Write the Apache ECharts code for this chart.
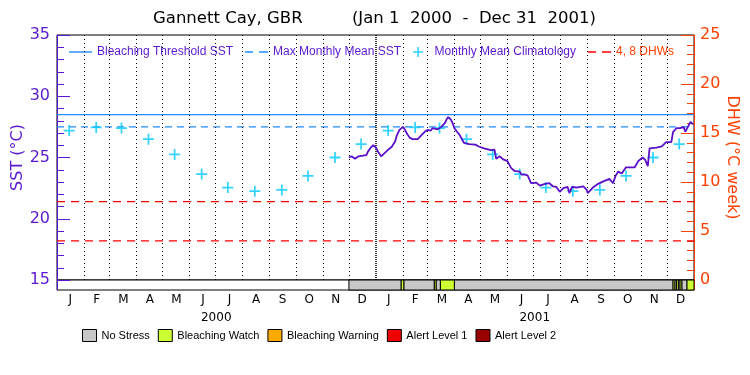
<!DOCTYPE html>
<html><head><meta charset="utf-8">
<script src="https://cdn.jsdelivr.net/npm/echarts@6/dist/echarts.min.js"></script>
<style>html,body{margin:0;padding:0;background:#fff}#c{width:750px;height:375px}</style>
</head><body><div id="c"></div>
<script>
// ---------------- data ----------------
const titleLeft = 'Gannett Cay, GBR';
const titleRight = '(Jan 1  2000  -  Dec 31  2001)';
const monthLabels = ['J','F','M','A','M','J','J','A','S','O','N','D','J','F','M','A','M','J','J','A','S','O','N','D'];
const yearLabels = ['2000','2001'];
const climatology = [27.2,27.45,27.4,26.5,25.25,23.65,22.55,22.25,22.35,23.5,25.0,26.1];
const bleachingThreshold = 28.5;
const maxMonthlyMean = 27.5;
const dhwLevels = [4, 8];
const sstDates = ['2000-12-01','2000-12-04','2000-12-08','2000-12-12','2000-12-17','2000-12-21','2000-12-23','2000-12-26','2000-12-29',
 '2001-01-01','2001-01-04','2001-01-07','2001-01-10','2001-01-13','2001-01-16','2001-01-19','2001-01-21','2001-01-23','2001-01-25','2001-01-28',
 '2001-02-01','2001-02-03','2001-02-06','2001-02-09','2001-02-12','2001-02-18','2001-02-22','2001-02-26',
 '2001-03-01','2001-03-05','2001-03-07','2001-03-09','2001-03-13','2001-03-17','2001-03-21','2001-03-23','2001-03-25','2001-03-28','2001-03-30',
 '2001-04-01','2001-04-04','2001-04-07','2001-04-10','2001-04-12','2001-04-18','2001-04-25','2001-04-29',
 '2001-05-05','2001-05-13','2001-05-17','2001-05-19','2001-05-23','2001-05-27',
 '2001-06-01','2001-06-05','2001-06-09','2001-06-15','2001-06-17','2001-06-21','2001-06-24','2001-06-28',
 '2001-07-04','2001-07-08','2001-07-14','2001-07-19','2001-07-23','2001-07-27','2001-07-31',
 '2001-08-04','2001-08-09','2001-08-11','2001-08-14','2001-08-19','2001-08-27','2001-08-31',
 '2001-09-01','2001-09-07','2001-09-13','2001-09-19','2001-09-26','2001-09-30',
 '2001-10-03','2001-10-06','2001-10-10','2001-10-15','2001-10-25','2001-10-29',
 '2001-11-03','2001-11-06','2001-11-09','2001-11-11','2001-11-19','2001-11-25','2001-11-30',
 '2001-12-06','2001-12-08','2001-12-12','2001-12-16','2001-12-20','2001-12-22','2001-12-25','2001-12-28','2001-12-31'];
const sstValues = [25.0,25.1,24.9,25.1,25.15,25.2,25.5,25.8,26.0,
 25.8,25.4,25.1,25.3,25.5,25.7,25.85,25.7,26.3,26.8,27.25,
 27.5,27.3,26.9,26.6,26.5,26.5,26.8,27.1,
 27.25,27.2,27.4,27.45,27.3,27.5,27.8,28.1,28.3,28.1,27.8,
 27.4,27.1,26.85,26.45,26.2,26.1,26.05,25.9,
 25.75,25.6,25.65,24.9,25.1,24.85,
 24.7,24.15,23.9,23.85,23.6,23.6,23.55,22.9,
 22.95,22.7,22.85,22.9,22.65,22.6,22.2,
 22.5,22.6,22.1,22.6,22.55,22.65,22.35,
 22.1,22.55,22.85,23.05,23.25,22.9,
 23.5,23.85,23.7,24.2,24.2,24.7,
 25.0,24.8,24.3,25.75,25.8,25.9,26.25,
 26.25,27.1,27.4,27.4,27.5,27.1,27.5,27.9,27.7];
const noStressSegments = [['2000-12-01','2001-01-30'],['2001-02-02','2001-03-09'],['2001-03-11','2001-03-16'],['2001-04-01','2001-12-08'],['2001-12-10','2001-12-12'],['2001-12-14','2001-12-16'],['2001-12-18','2001-12-24']];
const watchSegments = [['2001-01-30','2001-02-02'],['2001-03-09','2001-03-11'],['2001-03-16','2001-04-01'],['2001-12-08','2001-12-10'],['2001-12-12','2001-12-14'],['2001-12-16','2001-12-18'],['2001-12-24','2002-01-01']];
const warningSegments = [];
const alert1Segments = [];
const alert2Segments = [];
const startDate = '2000-01-01', endDate = '2002-01-01';

// ---------------- helpers ----------------
const t = s => { const p = s.split('-').map(Number); return new Date(p[0], p[1]-1, p[2]).getTime(); };
const T0 = t(startDate), T1 = t(endDate);
const PURPLE = '#5a18d0', ORANGE = '#ff4000', BLUE = '#1e8cff', CYAN = '#00c8ff';
const FONT = 'DejaVu Sans';
const ICON_SOLID = 'path://M0,0h23v1.4h-23z';
const ICON_DASH = 'path://M0,0h8v1.4h-8zM14,0h9v1.4h-9z';
const ICON_CROSS = 'path://M4.2,0h1.6v10h-1.6zM0,4.2h10v1.6h-10z';

const climData = [];
[2000, 2001].forEach(y => climatology.forEach((v, m) => climData.push([new Date(y, m, 15).getTime(), v])));
const monthStarts = [];
for (let y = 2000; y <= 2001; y++) for (let m = 0; m < 12; m++) {
  if (m === 0) continue;
  monthStarts.push(new Date(y, m, 1).getTime());
}
const yearStart = [t('2001-01-01')];

function renderSeg(params, api) {
  const s = api.coord([api.value(0), 0]);
  const e = api.coord([api.value(1), 1]);
  return { type: 'rect', shape: { x: s[0], y: e[1], width: e[0] - s[0], height: s[1] - e[1] },
    style: { fill: api.visual('color'), stroke: '#000', lineWidth: 1 } };
}
const segSeries = (name, color, segs) => ({
  name, type: 'custom', xAxisIndex: 1, yAxisIndex: 2, renderItem: renderSeg,
  itemStyle: { color }, encode: { x: [0, 1] }, silent: true,
  data: segs.map(s => [t(s[0]), t(s[1])])
});

const chart = echarts.init(document.getElementById('c'), null, { renderer: 'canvas' });
chart.setOption({
  animation: false,
  backgroundColor: '#fff',
  textStyle: { fontFamily: FONT },
  title: [
    { text: titleLeft, left: 153, top: 10, padding: 0, textStyle: { fontFamily: FONT, fontSize: 16.5, fontWeight: 'normal', color: '#000' } },
    { text: titleRight, right: 154, top: 10, padding: 0, textStyle: { fontFamily: FONT, fontSize: 16.5, fontWeight: 'normal', color: '#000' } }
  ],
  legend: [
    { left: 69, top: 46, padding: 0, itemWidth: 23, itemHeight: 10, itemGap: 12,
      textStyle: { fontFamily: 'Liberation Sans', fontSize: 12, color: PURPLE },
      data: [
        { name: 'Bleaching Threshold SST', icon: ICON_SOLID, itemStyle: { color: BLUE } },
        { name: 'Max Monthly Mean SST', icon: ICON_DASH, itemStyle: { color: BLUE } },
        { name: 'Monthly Mean Climatology', icon: ICON_CROSS, itemStyle: { color: CYAN } },
        { name: '4, 8 DHWs', icon: ICON_DASH, itemStyle: { color: '#ff0000' }, textStyle: { color: ORANGE } }
      ] },
    { left: 82, top: 329, padding: 0, itemWidth: 14, itemHeight: 12, itemGap: 8, icon: 'rect',
      itemStyle: { borderColor: '#000', borderWidth: 1 },
      textStyle: { fontFamily: 'Liberation Sans', fontSize: 11, color: '#000' },
      data: ['No Stress', 'Bleaching Watch', 'Bleaching Warning', 'Alert Level 1', 'Alert Level 2'] }
  ],
  grid: [
    { left: 57, right: 56, top: 35, height: 245, outerBoundsMode: 'none', containLabel: false,
      show: true, borderColor: '#000', borderWidth: 1, backgroundColor: 'transparent' },
    { left: 57, right: 56, top: 280, height: 10, outerBoundsMode: 'none', containLabel: false,
      show: true, borderColor: '#000', borderWidth: 1, backgroundColor: '#fff' }
  ],
  xAxis: [
    { type: 'time', gridIndex: 0, min: T0, max: T1, show: false },
    { type: 'time', gridIndex: 1, min: T0, max: T1, show: false },
    { type: 'category', gridIndex: 1, position: 'bottom', data: monthLabels, boundaryGap: true,
      axisLine: { show: false }, axisTick: { show: false }, splitLine: { show: false },
      axisLabel: { color: '#000', fontSize: 12, fontFamily: FONT, margin: 4, interval: 0 } },
    { type: 'category', gridIndex: 1, position: 'bottom', offset: 18, data: yearLabels, boundaryGap: true,
      axisLine: { show: false }, axisTick: { show: false }, splitLine: { show: false },
      axisLabel: { color: '#000', fontSize: 12, fontFamily: FONT, margin: 4, interval: 0 } }
  ],
  yAxis: [
    { type: 'value', gridIndex: 0, position: 'left', min: 15, max: 35, interval: 5,
      name: 'SST (°C)', nameLocation: 'middle', nameRotate: 90, nameGap: 31, nameMoveOverlap: false,
      nameTextStyle: { color: PURPLE, fontSize: 16, fontFamily: FONT },
      axisLine: { show: true, lineStyle: { color: PURPLE, width: 1 } },
      axisTick: { show: true, inside: true, length: 13, lineStyle: { color: PURPLE } },
      minorTick: { show: true, splitNumber: 5, length: 7, lineStyle: { color: PURPLE } },
      axisLabel: { color: PURPLE, fontSize: 16, fontFamily: FONT, margin: 7 },
      splitLine: { show: false } },
    { type: 'value', gridIndex: 0, position: 'right', min: 0, max: 25, interval: 5,
      name: 'DHW (°C week)', nameLocation: 'middle', nameRotate: -90, nameGap: 30, nameMoveOverlap: false,
      nameTextStyle: { color: ORANGE, fontSize: 16, fontFamily: FONT },
      axisLine: { show: true, lineStyle: { color: ORANGE, width: 1 } },
      axisTick: { show: true, inside: true, length: 13, lineStyle: { color: ORANGE } },
      minorTick: { show: true, splitNumber: 5, length: 7, lineStyle: { color: ORANGE } },
      axisLabel: { color: ORANGE, fontSize: 16, fontFamily: FONT, margin: 6 },
      splitLine: { show: false } },
    { type: 'value', gridIndex: 1, position: 'left', min: 0, max: 1,
      axisLine: { show: true, lineStyle: { color: PURPLE } }, axisTick: { show: false }, axisLabel: { show: false }, splitLine: { show: false } },
    { type: 'value', gridIndex: 1, position: 'right', min: 0, max: 1,
      axisLine: { show: true, lineStyle: { color: ORANGE } }, axisTick: { show: false }, axisLabel: { show: false }, splitLine: { show: false } }
  ],
  series: [
    { name: 'Bleaching Threshold SST', type: 'line', xAxisIndex: 0, yAxisIndex: 0, symbol: 'none', silent: true,
      lineStyle: { color: BLUE, width: 1.2 }, itemStyle: { color: BLUE },
      data: [[T0, bleachingThreshold], [T1, bleachingThreshold]],
      markLine: { silent: true, symbol: ['none', 'none'], label: { show: false },
        lineStyle: { color: '#000', type: [1, 3], width: 1 },
        data: monthStarts.filter(m => m !== yearStart[0]).map(m => ({ xAxis: m }))
          .concat(yearStart.map(m => ({ xAxis: m, lineStyle: { color: '#000', type: [1, 1], width: 1.6 } }))) } },
    { name: 'Max Monthly Mean SST', type: 'line', xAxisIndex: 0, yAxisIndex: 0, symbol: 'none', silent: true,
      lineStyle: { color: BLUE, width: 1.2, type: [7, 5] }, itemStyle: { color: BLUE },
      data: [[T0, maxMonthlyMean], [T1, maxMonthlyMean]] },
    { name: '4, 8 DHWs', type: 'line', xAxisIndex: 0, yAxisIndex: 1, symbol: 'none', silent: true,
      lineStyle: { color: '#ff0000', width: 1.2, type: [8, 6] }, itemStyle: { color: '#ff0000' },
      data: [[T0, dhwLevels[0]], [T1, dhwLevels[0]]] },
    { name: '4, 8 DHWs', type: 'line', xAxisIndex: 0, yAxisIndex: 1, symbol: 'none', silent: true,
      lineStyle: { color: '#ff0000', width: 1.2, type: [8, 6] }, itemStyle: { color: '#ff0000' },
      data: [[T0, dhwLevels[1]], [T1, dhwLevels[1]]] },
    { name: 'Monthly Mean Climatology', type: 'scatter', xAxisIndex: 0, yAxisIndex: 0, silent: true, z: 4,
      symbol: ICON_CROSS, symbolSize: 11, itemStyle: { color: CYAN },
      data: climData },
    { name: 'SST', type: 'line', xAxisIndex: 0, yAxisIndex: 0, symbol: 'none', silent: true, z: 5,
      lineStyle: { color: '#5a0fc8', width: 1.8 },
      data: sstDates.map((d, i) => [t(d), sstValues[i]]) },
    segSeries('No Stress', '#c8c8c8', noStressSegments),
    segSeries('Bleaching Watch', '#ccff33', watchSegments),
    segSeries('Bleaching Warning', '#ffaa00', warningSegments),
    segSeries('Alert Level 1', '#ee0000', alert1Segments),
    segSeries('Alert Level 2', '#990000', alert2Segments)
  ]
});
</script></body></html>
